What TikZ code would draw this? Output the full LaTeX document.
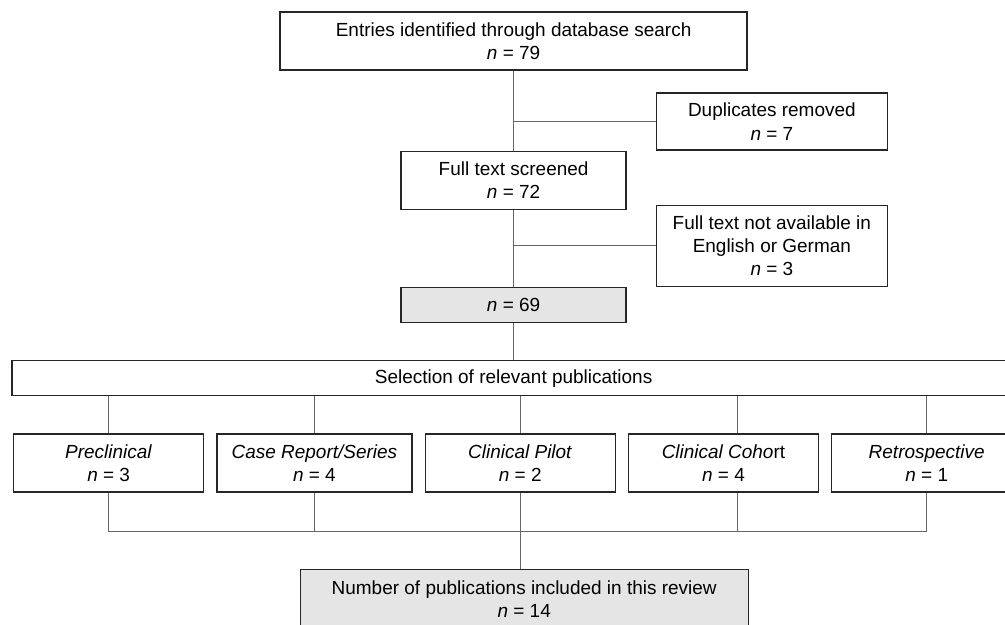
\documentclass[tikz,border=0pt]{standalone}
\usepackage{fontspec}
\setmainfont{Liberation Sans}
\usetikzlibrary{positioning}

\begin{document}
\begin{tikzpicture}[
        node distance=0.3cm,
        box/.style={draw=black!85, line width=0.9pt, minimum height=1.45cm, align=center, inner sep=0pt, font=\fontsize{13.5}{16.6}\selectfont},
        grey/.style={box, fill=black!10},
        study/.style={box, minimum width=4.75cm},
        link/.style={draw=black!60, line width=0.6pt}
    ]
    
    % Frame
    \useasboundingbox (0,0) rectangle (25.125,-15.625);
    
    % Nodes
    \node[box, minimum width=11.675cm] (search) at (12.84,-1.025) {Entries identified through database search \\ \textit{n} = 79};
    \node[box, minimum width=5.625cm, below=2cm of search] (screened) {Full text screened \\ \textit{n} = 72};
    \node[box, minimum width=5.775cm, minimum height=1.425cm, above right=0cm and 0.725cm of screened.north east] (dup) {Duplicates removed \\ \textit{n} = 7};
    \node[grey, minimum width=5.625cm, minimum height=0.875cm, below=1.925cm of screened] (remain) {\textit{n} = 69};
    \node[box, minimum width=5.775cm, minimum height=2.025cm, above right=0cm and 0.725cm of remain.north east] (lang) {Full text not available in \\ English or German \\ \textit{n} = 3};
    \node[box, minimum width=25.075cm, minimum height=0.875cm, below=0.925cm of remain] (sel) {Selection of relevant publications};
    
    \node[study, below=0.925cm of sel, xshift=0.165cm] (pilot) {\textit{Clinical Pilot} \\ \textit{n} = 2};
    \node[study, minimum width=4.875cm, left=of pilot] (case) {\textit{Case Report/Series} \\ \textit{n} = 4};
    \node[study, left=of case] (pre) {\textit{Preclinical} \\ \textit{n} = 3};
    \node[study, right=of pilot] (cohort) {\textit{Clinical Coho}rt \\ \textit{n} = 4};
    \node[study, right=of cohort] (retro) {\textit{Retrospective} \\ \textit{n} = 1};
    
    \node[grey, minimum width=11.2cm, minimum height=1.5cm, below=1.9cm of pilot, xshift=0.1cm] (final) {Number of publications included in this review \\ \textit{n} = 14};
    
    % Arrows
    \draw[link] (search) -- (screened);
    \draw[link] (dup.west) -- (dup.west -| search.south);
    \draw[link] (screened) -- (remain);
    \draw[link] (lang.west) -- (lang.west -| screened.south);
    \draw[link] (remain) -- (sel);
    
    \coordinate (bus) at ([yshift=-0.975cm]pilot.south);
    \foreach \study in {pre, case, pilot, retro} {
        \draw[link] (\study.north) -- (\study.north |- sel.south);
        \draw[link] (\study.south) -- (\study.south |- bus);
    }
    \draw[link] ([xshift=0.36cm]cohort.north) -- ([xshift=0.36cm]cohort.north |- sel.south);
    \draw[link] ([xshift=0.36cm]cohort.south) -- ([xshift=0.36cm]cohort.south |- bus);
    \draw[link] (pre.south |- bus) -- (retro.south |- bus);
    \draw[link] (bus) -- (bus |- final.north);
    
    \end{tikzpicture}
\end{document}
